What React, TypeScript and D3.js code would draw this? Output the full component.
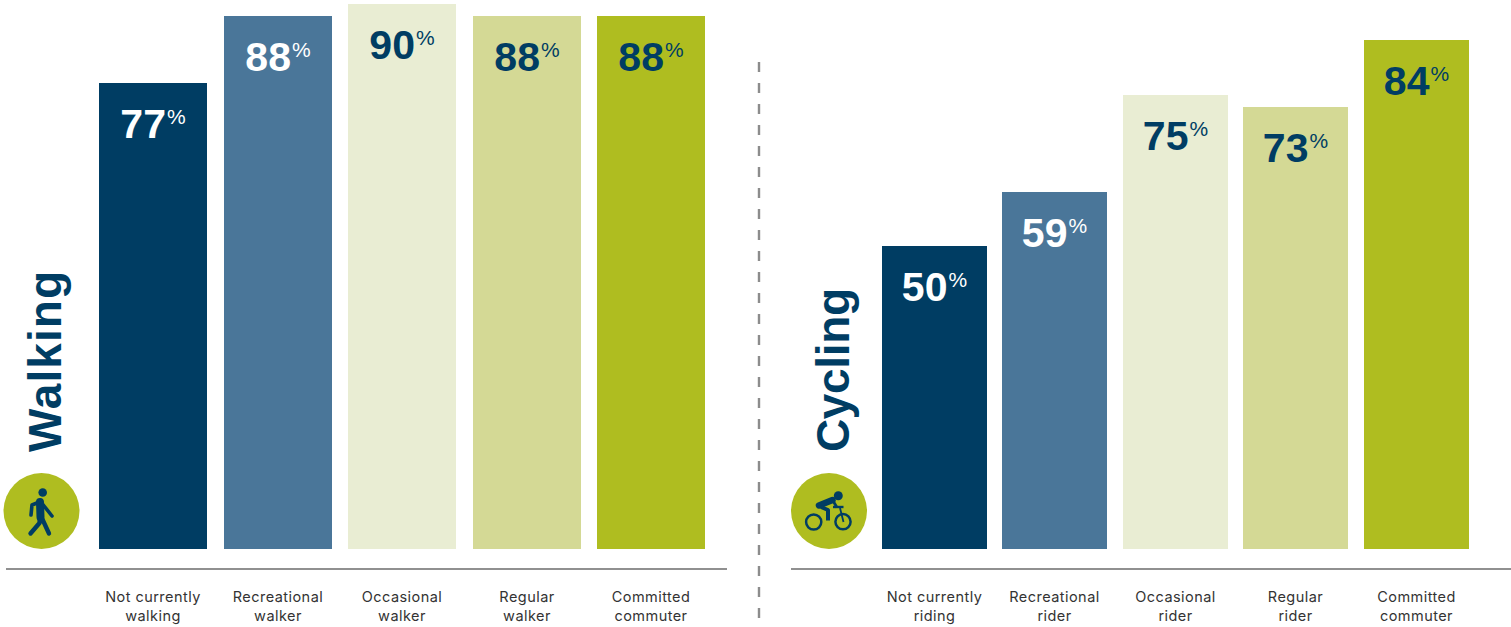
import React from "react";
import * as d3 from "d3";

const walkingCategories = [["Not currently", "walking"], ["Recreational", "walker"], ["Occasional", "walker"], ["Regular", "walker"], ["Committed", "commuter"]];
const walkingValues = [77, 88, 90, 88, 88];
const cyclingCategories = [["Not currently", "riding"], ["Recreational", "rider"], ["Occasional", "rider"], ["Regular", "rider"], ["Committed", "commuter"]];
const cyclingValues = [50, 59, 75, 73, 84];
const barColors = ["#003d63", "#4a7699", "#e9edd3", "#d4d995", "#afbd20"];
const valueColors = ["#ffffff", "#ffffff", "#003d63", "#003d63", "#003d63"];

const NAVY = "#003d63";
const GREEN = "#afbd20";
const BASELINE = 549;
const VALUE_FONT = "'Liberation Sans', sans-serif";
const LABEL_FONT = "Inter, sans-serif";
const TITLE_FONT = "'Liberation Sans', sans-serif";

// Shared value scale: both panels use the same pixels-per-percent.
const y = d3.scaleLinear().domain([0, 90]).range([BASELINE, 3.9]);

type PanelProps = {
  categories: string[][];
  values: number[];
  range: [number, number];
  paddingInner: number;
};

function Bars({ categories, values, range, paddingInner }: PanelProps) {
  const keys = categories.map((c) => c.join(" "));
  const x = d3.scaleBand<string>().domain(keys).range(range).paddingInner(paddingInner).paddingOuter(0);
  return (
    <g>
      {values.map((v, i) => {
        const left = Math.round(x(keys[i]) as number);
        const w = Math.round(x.bandwidth());
        const cx = left + w / 2;
        const top = Math.round(y(v));
        return (
          <g key={keys[i]}>
            <rect x={left} y={top} width={w} height={BASELINE - top} fill={barColors[i]} />
            <text
              x={cx}
              y={top + 55}
              textAnchor="middle"
              fill={valueColors[i]}
              fontFamily={VALUE_FONT}
              fontWeight={700}
              fontSize={41}
            >
              {v}
              <tspan fontSize={21} dy={-14} dx={1} fontWeight={400}>%</tspan>
            </text>
            {categories[i].map((line, j) => (
              <text
                key={line}
                x={cx}
                y={602 + j * 19}
                textAnchor="middle"
                fill="#333333"
                fontFamily={LABEL_FONT}
                fontSize={14.5}
                letterSpacing={0.45}
              >
                {line}
              </text>
            ))}
          </g>
        );
      })}
    </g>
  );
}

function WalkerIcon({ cx, cy }: { cx: number; cy: number }) {
  const body = d3.line()([[-1.5, -9], [-1, 6]]) as string;
  const arms = d3.line()([[-10.5, 4], [-9.5, -6], [-1, -9.5], [10.5, 5]]) as string;
  const legs = d3.line()([[-11, 22.5], [-2, 12], [-1.5, 3], [7.5, 22.5]]) as string;
  return (
    <g transform={`translate(${cx},${cy})`}>
      <circle r={38} fill={GREEN} />
      <circle cx={1.2} cy={-18.5} r={4.3} fill={NAVY} />
      <path d={body} stroke={NAVY} strokeWidth={8} strokeLinecap="round" fill="none" />
      <path d={arms} stroke={NAVY} strokeWidth={3.6} strokeLinecap="round" strokeLinejoin="round" fill="none" />
      <path d={legs} stroke={NAVY} strokeWidth={4.4} strokeLinecap="round" strokeLinejoin="round" fill="none" />
    </g>
  );
}

function CyclistIcon({ cx, cy }: { cx: number; cy: number }) {
  const torso = d3.line()([[-10, -5.5], [3.5, -11]]) as string;
  const leg = d3.line()([[-8, -4], [-1, -1], [-1, 9.5]]) as string;
  const arm = d3.line()([[3.5, -11], [8, -3.5]]) as string;
  const bar = d3.line()([[4, -4], [14.5, -4]]) as string;
  const fork = d3.line()([[11, -3], [14.5, 11]]) as string;
  return (
    <g transform={`translate(${cx},${cy})`}>
      <circle r={38} fill={GREEN} />
      <circle cx={9.3} cy={-15.3} r={4.5} fill={NAVY} />
      <path d={torso} stroke={NAVY} strokeWidth={6.5} strokeLinecap="round" fill="none" />
      <path d={leg} stroke={NAVY} strokeWidth={4} strokeLinejoin="round" fill="none" />
      <path d={arm} stroke={NAVY} strokeWidth={2.8} fill="none" />
      <path d={bar} stroke={NAVY} strokeWidth={2.4} fill="none" />
      <path d={fork} stroke={NAVY} strokeWidth={1.8} fill="none" />
      <circle cx={-15.3} cy={11} r={7.6} fill="none" stroke={NAVY} strokeWidth={2.5} />
      <circle cx={14} cy={10.7} r={7.6} fill="none" stroke={NAVY} strokeWidth={2.5} />
    </g>
  );
}

function Title({ text, x, base, length }: { text: string; x: number; base: number; length: number }) {
  return (
    <text
      transform={`translate(${x},${base}) rotate(-90)`}
      fill={NAVY}
      fontFamily={TITLE_FONT}
      fontWeight={700}
      fontSize={46}
      textLength={length}
      lengthAdjust="spacing"
    >
      {text}
    </text>
  );
}

export default function App() {
  return (
    <svg
      width={1511}
      height={627}
      viewBox="0 0 1511 627"
      style={{ position: "absolute", left: 0, top: 0, display: "block", background: "#ffffff" }}
    >
      <Bars categories={walkingCategories} values={walkingValues} range={[99, 705]} paddingInner={0.135} />
      <Bars categories={cyclingCategories} values={cyclingValues} range={[882, 1469]} paddingInner={0.1286} />

      <line x1={6} x2={727} y1={569} y2={569} stroke="#6b6b6b" strokeWidth={1.4} />
      <line x1={791} x2={1511} y1={569} y2={569} stroke="#6b6b6b" strokeWidth={1.4} />
      <line x1={759} x2={759} y1={62} y2={622} stroke="#8c8c8c" strokeWidth={2.4} strokeDasharray="10 11" />

      <Title text="Walking" x={60.5} base={452} length={181} />
      <Title text="Cycling" x={848.5} base={452} length={164} />
      <WalkerIcon cx={41.5} cy={511} />
      <CyclistIcon cx={829} cy={511} />
    </svg>
  );
}
